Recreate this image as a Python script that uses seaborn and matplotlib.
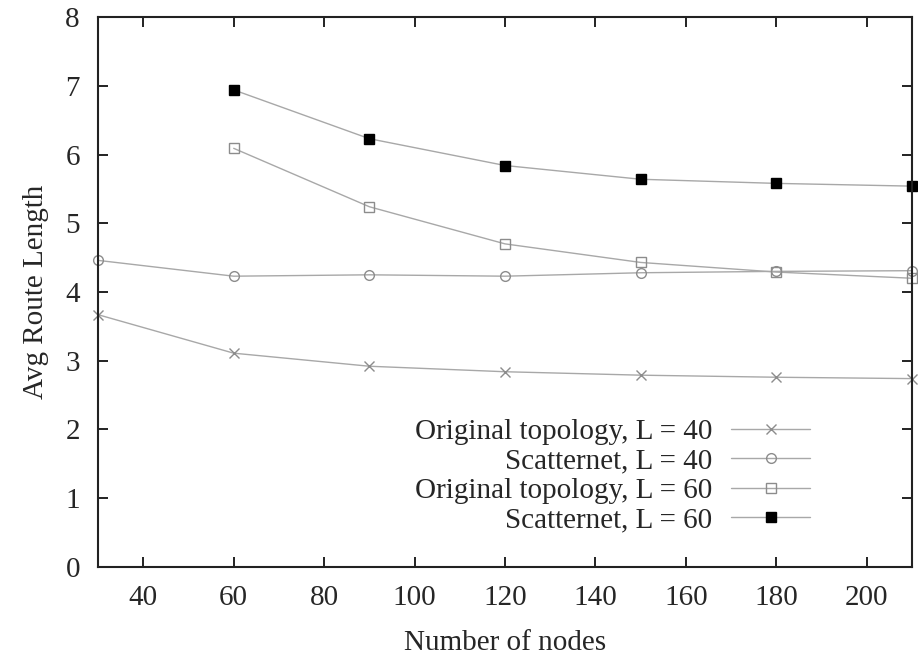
import pandas as pd
import matplotlib
matplotlib.use('Agg')
import matplotlib.pyplot as plt
import seaborn as sns

nodes = [30, 60, 90, 120, 150, 180, 210]
orig_40 = [3.67, 3.11, 2.92, 2.84, 2.79, 2.76, 2.74]
scat_40 = [4.46, 4.23, 4.25, 4.23, 4.28, 4.30, 4.31]
nodes_60 = [60, 90, 120, 150, 180, 210]
orig_60 = [6.09, 5.24, 4.70, 4.43, 4.29, 4.20]
scat_60 = [6.94, 6.23, 5.84, 5.64, 5.58, 5.54]

labels = ['Original topology, L = 40', 'Scatternet, L = 40',
          'Original topology, L = 60', 'Scatternet, L = 60']
x_ticks = [40, 60, 80, 100, 120, 140, 160, 180, 200]
y_ticks = [0, 1, 2, 3, 4, 5, 6, 7, 8]


def build_frame():
    parts = [
        pd.DataFrame({'nodes': nodes, 'length': orig_40, 'series': labels[0]}),
        pd.DataFrame({'nodes': nodes, 'length': scat_40, 'series': labels[1]}),
        pd.DataFrame({'nodes': nodes_60, 'length': orig_60, 'series': labels[2]}),
        pd.DataFrame({'nodes': nodes_60, 'length': scat_60, 'series': labels[3]}),
    ]
    return pd.concat(parts, ignore_index=True)


sns.set_style('ticks')
plt.rcParams['font.family'] = ['Liberation Serif', 'DejaVu Serif']

df = build_frame()

fig = plt.figure(figsize=(9.18, 6.55), dpi=100)
ax = fig.add_axes([0.1068, 0.1344, 0.8867, 0.8396])

# marker style per series (gnuplot look)
styles = {
    labels[0]: dict(marker='x', mfc='none', mec='#8c8c8c', ms=7, mew=1.0),
    labels[1]: dict(marker='o', mfc='none', mec='#8c8c8c', ms=7, mew=1.0),
    labels[2]: dict(marker='s', mfc='none', mec='#8c8c8c', ms=7, mew=1.0),
    labels[3]: dict(marker='s', mfc='black', mec='black', ms=7, mew=1.0),
}

for name in labels:
    sub = df[df['series'] == name]
    sns.lineplot(data=sub, x='nodes', y='length', ax=ax, color='#a8a8a8',
                 linewidth=1.0, label=name, clip_on=False, **styles[name])

ax.set_xlim(30, 210)
ax.set_ylim(0, 8)
ax.set_xticks(x_ticks)
ax.set_yticks(y_ticks)
ax.set_xlabel('Number of nodes', fontsize=21, labelpad=14)
ax.set_ylabel('Avg Route Length', fontsize=21, labelpad=12)
ax.tick_params(axis='both', direction='in', top=True, right=True,
               length=7, width=1.4, labelsize=21, color='#222222')
ax.tick_params(axis='x', pad=13)
ax.tick_params(axis='y', pad=13)
for spine in ax.spines.values():
    spine.set_visible(True)
    spine.set_linewidth(1.5)
    spine.set_color('#222222')

ax.legend(loc='lower right', bbox_to_anchor=(0.889, 0.04), frameon=False,
          markerfirst=False, fontsize=21, handlelength=2.7,
          handletextpad=0.65, labelspacing=0.1, borderaxespad=0)

fig.savefig('out.png', dpi=100)
